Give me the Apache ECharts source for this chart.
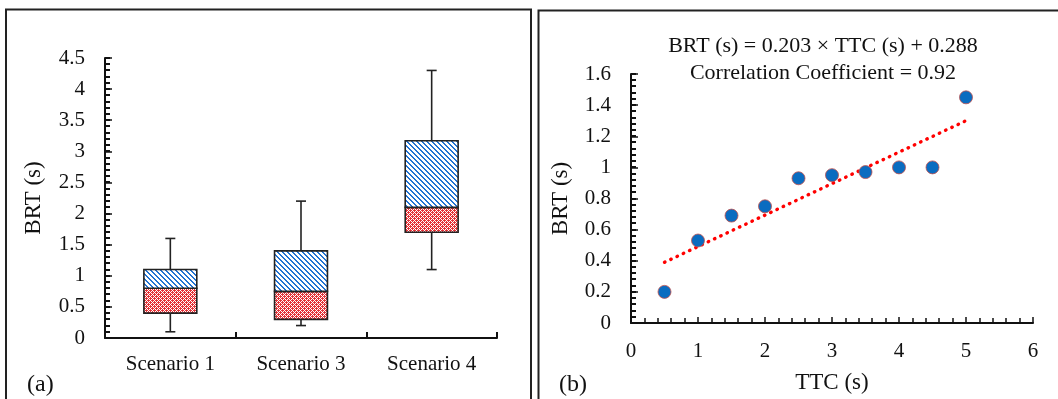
<!DOCTYPE html>
<html>
<head>
<meta charset="utf-8">
<script src="https://cdn.jsdelivr.net/npm/echarts@6/dist/echarts.min.js"></script>
<style>
html,body{margin:0;padding:0;background:#fff;}
#chart{width:1058px;height:399px;}
</style>
</head>
<body>
<div id="chart"></div>
<script>
// ---- Panel (a): box plot data ----
const scenarios = ['Scenario 1', 'Scenario 3', 'Scenario 4'];
const boxMin    = [0.1, 0.2, 1.1];
const boxQ1     = [0.4, 0.3, 1.7];
const boxMedian = [0.8, 0.75, 2.1];
const boxQ3     = [1.1, 1.4, 3.17];
const boxMax    = [1.6, 2.2, 4.3];

// ---- Panel (b): scatter data ----
const ttc = [0.5, 1, 1.5, 2, 2.5, 3, 3.5, 4, 4.5, 5];
const brt = [0.2, 0.53, 0.69, 0.75, 0.93, 0.95, 0.97, 1.0, 1.0, 1.45];
const trendX = [0.5, 5];
const trendY = [0.39, 1.30];

const equationText = 'BRT (s) = 0.203 \u00d7 TTC (s) + 0.288';
const corrText = 'Correlation Coefficient = 0.92';

const FONT = '"Liberation Serif", "Times New Roman", serif';
const GRID_A_LEFT = 105, GRID_B_LEFT = 631;

function makePattern(kind) {
  const n = kind === 'red' ? 4 : 5;
  const c = document.createElement('canvas');
  c.width = n; c.height = n;
  const ctx = c.getContext('2d');
  const img = ctx.createImageData(n, n);
  for (let y = 0; y < n; y++) {
    for (let x = 0; x < n; x++) {
      let col;
      if (kind === 'red') {
        const white = (x % 2 === 1 && y % 2 === 1) || (x === 0 && y === 2) || (x === 2 && y === 0);
        col = white ? [255, 255, 255] : [228, 50, 55];
      } else {
        const d = ((x - y) % n + n) % n;
        col = (d === 0 || d === 1) ? [35, 115, 210] : [255, 255, 255];
      }
      const i = (y * n + x) * 4;
      img.data[i] = col[0]; img.data[i + 1] = col[1]; img.data[i + 2] = col[2]; img.data[i + 3] = 255;
    }
  }
  ctx.putImageData(img, 0, 0);
  return c;
}
const redPat = { image: makePattern('red'), repeat: 'repeat' };
const bluePat = { image: makePattern('blue'), repeat: 'repeat' };

const boxData = scenarios.map((s, i) => [i, boxMin[i], boxQ1[i], boxMedian[i], boxQ3[i], boxMax[i]]);
const scatterData = ttc.map((x, i) => [x, brt[i]]);
const trendData = trendX.map((x, i) => [x, trendY[i]]);

function renderBox(params, api) {
  const ci = api.value(0);
  const pMin = api.coord([ci, api.value(1)]);
  const pQ1 = api.coord([ci, api.value(2)]);
  const pMd = api.coord([ci, api.value(3)]);
  const pQ3 = api.coord([ci, api.value(4)]);
  const pMax = api.coord([ci, api.value(5)]);
  const band = api.size([1, 0])[0];
  const bw = band * 0.405;
  const cx = pMd[0];
  const half = bw / 2;
  const cap = 5;
  const lineStyle = { stroke: '#222', lineWidth: 1.6 };
  return {
    type: 'group',
    children: [
      { type: 'line', shape: { x1: cx, y1: pMin[1], x2: cx, y2: pQ1[1] }, style: lineStyle },
      { type: 'line', shape: { x1: cx, y1: pQ3[1], x2: cx, y2: pMax[1] }, style: lineStyle },
      { type: 'line', shape: { x1: cx - cap, y1: pMin[1], x2: cx + cap, y2: pMin[1] }, style: lineStyle },
      { type: 'line', shape: { x1: cx - cap, y1: pMax[1], x2: cx + cap, y2: pMax[1] }, style: lineStyle },
      { type: 'rect', shape: { x: cx - half, y: pMd[1], width: bw, height: pQ1[1] - pMd[1] },
        style: { fill: redPat, stroke: '#222', lineWidth: 1.6 } },
      { type: 'rect', shape: { x: cx - half, y: pQ3[1], width: bw, height: pMd[1] - pQ3[1] },
        style: { fill: bluePat, stroke: '#222', lineWidth: 1.6 } }
    ]
  };
}

function minorYTicks(maxV, step, len) {
  return function (params, api) {
    const cs = params.coordSys;
    const n = Math.round(maxV / step);
    const children = [];
    for (let k = 0; k <= n; k++) {
      const y = Math.round(api.coord([0, k * step])[1]);
      children.push({ type: 'rect', shape: { x: cs.x, y: y - 1, width: len, height: 2 },
        style: { fill: '#111' } });
    }
    return { type: 'group', children: children };
  };
}

const axisLine = { show: true, lineStyle: { color: '#111', width: 2 } };
const labelStyle = { fontFamily: FONT, fontSize: 21, color: '#111' };
const tickStyle = { color: '#111', width: 1.5 };

const baseGraphic = [
  { type: 'rect', shape: { x: 6, y: 9.5, width: 525, height: 420 },
    style: { fill: 'none', stroke: '#222', lineWidth: 2 }, silent: true },
  { type: 'rect', shape: { x: 538.5, y: 10.5, width: 540, height: 420 },
    style: { fill: 'none', stroke: '#222', lineWidth: 2 }, silent: true },
  { type: 'text', x: 823, y: 46, style: { text: equationText, fontFamily: FONT, fontSize: 22, fill: '#111', textAlign: 'center', textVerticalAlign: 'middle' } },
  { type: 'text', x: 823, y: 73, style: { text: corrText, fontFamily: FONT, fontSize: 22, fill: '#111', textAlign: 'center', textVerticalAlign: 'middle' } },
  { type: 'text', x: 27, y: 385, style: { text: '(a)', fontFamily: FONT, fontSize: 24, fill: '#111', textAlign: 'left', textVerticalAlign: 'middle' } },
  { type: 'text', x: 559, y: 385, style: { text: '(b)', fontFamily: FONT, fontSize: 24, fill: '#111', textAlign: 'left', textVerticalAlign: 'middle' } }
];

const chart = echarts.init(document.getElementById('chart'), null, { renderer: 'canvas' });
chart.setOption({
  animation: false,
  backgroundColor: '#fff',
  grid: [
    { left: GRID_A_LEFT, top: 58, width: 392, height: 280 },
    { left: GRID_B_LEFT, top: 74, width: 402, height: 254 }
  ],
  xAxis: [
    {
      gridIndex: 0, type: 'category', data: scenarios, boundaryGap: true,
      axisLine: axisLine,
      axisTick: { show: true, inside: true, length: 6, alignWithLabel: false, lineStyle: { color: '#111', width: 2 } },
      axisLabel: Object.assign({ margin: 16 }, labelStyle),
      splitLine: { show: false }
    },
    {
      gridIndex: 1, type: 'value', min: 0, max: 6, interval: 1, position: 'bottom',
      axisLine: axisLine,
      axisTick: { show: true, inside: true, length: 6, lineStyle: tickStyle },
      axisLabel: Object.assign({ margin: 18 }, labelStyle),
      splitLine: { show: false },
      name: 'TTC (s)', nameLocation: 'middle', nameGap: 48,
      nameTextStyle: { fontFamily: FONT, fontSize: 23, color: '#111' }
    },
    {
      gridIndex: 1, type: 'value', min: 0, max: 6, interval: 0.2, position: 'bottom',
      axisLine: { show: false },
      axisTick: { show: true, inside: true, length: 5, lineStyle: tickStyle },
      axisLabel: { show: false },
      splitLine: { show: false }
    }
  ],
  yAxis: [
    {
      gridIndex: 0, type: 'value', min: 0, max: 4.5, interval: 0.5, position: 'left',
      axisLine: axisLine,
      axisTick: { show: true, inside: true, length: 7, lineStyle: tickStyle },
      axisLabel: Object.assign({ margin: 20 }, labelStyle),
      splitLine: { show: false },
      name: 'BRT (s)', nameLocation: 'middle', nameGap: 60, nameRotate: 90,
      nameTextStyle: { fontFamily: FONT, fontSize: 23, color: '#111' }
    },
    {
      gridIndex: 1, type: 'value', min: 0, max: 1.6, interval: 0.2, position: 'left',
      axisLine: axisLine,
      axisTick: { show: true, inside: true, length: 7, lineStyle: tickStyle },
      axisLabel: Object.assign({ margin: 20 }, labelStyle),
      splitLine: { show: false },
      name: 'BRT (s)', nameLocation: 'middle', nameGap: 59, nameRotate: 90,
      nameTextStyle: { fontFamily: FONT, fontSize: 23, color: '#111' }
    }
  ],
  series: [
    {
      type: 'custom', xAxisIndex: 0, yAxisIndex: 0, clip: false,
      renderItem: minorYTicks(4.5, 0.1, 5), data: [[0, 0]], silent: true, z: 5
    },
    {
      type: 'custom', xAxisIndex: 1, yAxisIndex: 1, clip: false,
      renderItem: minorYTicks(1.6, 0.04, 5), data: [[0, 0]], silent: true, z: 5
    },
    {
      type: 'custom', xAxisIndex: 0, yAxisIndex: 0,
      renderItem: renderBox,
      encode: { x: 0, y: [1, 2, 3, 4, 5] },
      data: boxData, z: 3
    },
    {
      type: 'line', xAxisIndex: 1, yAxisIndex: 1,
      data: trendData, symbol: 'none',
      lineStyle: { color: '#ff0000', width: 3.4, type: [0.5, 6.4], cap: 'round' },
      z: 2
    },
    {
      type: 'scatter', xAxisIndex: 1, yAxisIndex: 1,
      data: scatterData, symbol: 'circle', symbolSize: 13,
      itemStyle: { color: '#0a6cc0', borderColor: '#c0504d', borderWidth: 0.8, opacity: 1 },
      z: 3
    }
  ],
  graphic: baseGraphic
});

// Minor y ticks also placed as graphic elements through the axes' own scale
const tickGraphic = [];
function addTicks(yAxisIndex, left, maxV, step) {
  const n = Math.round(maxV / step);
  for (let k = 0; k <= n; k++) {
    const y = Math.round(chart.convertToPixel({ yAxisIndex: yAxisIndex }, k * step));
    tickGraphic.push({ type: 'rect', shape: { x: left, y: y - 1, width: 5, height: 2 },
      style: { fill: '#111' }, silent: true, z: 10 });
  }
}
addTicks(0, GRID_A_LEFT, 4.5, 0.1);
addTicks(1, GRID_B_LEFT, 1.6, 0.04);
chart.setOption({ graphic: baseGraphic.concat(tickGraphic) });
</script>
</body>
</html>
